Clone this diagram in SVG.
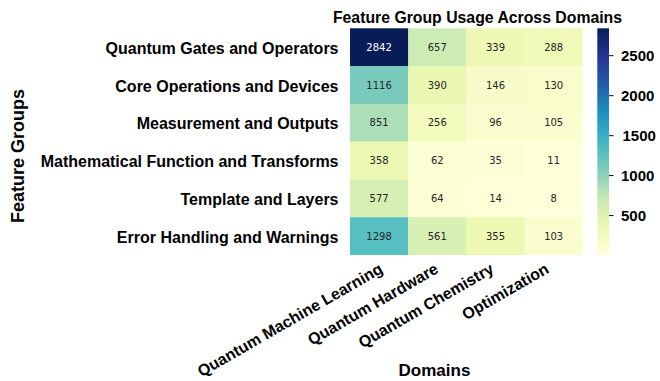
<svg xmlns="http://www.w3.org/2000/svg" width="660" height="381" viewBox="0 0 660 381">
<style>
.lbl{font-family:"Liberation Sans",Arial,sans-serif;font-weight:bold;fill:#000}
.row{font-size:16px;text-anchor:end}
.col{font-size:16px;text-anchor:end}
.ann{font-family:"DejaVu Sans",sans-serif;font-size:10px;text-anchor:middle;fill:#262626}
.annw{fill:#ffffff}
.tick{stroke:#000;stroke-width:1}
.cb{font-size:15px}
</style>
<defs>
<linearGradient id="ylgnbu" x1="0" y1="1" x2="0" y2="0">
<stop offset="0" stop-color="#ffffd9"/>
<stop offset="0.125" stop-color="#edf8b1"/>
<stop offset="0.25" stop-color="#c7e9b4"/>
<stop offset="0.375" stop-color="#7fcdbb"/>
<stop offset="0.5" stop-color="#41b6c4"/>
<stop offset="0.625" stop-color="#1d91c0"/>
<stop offset="0.75" stop-color="#225ea8"/>
<stop offset="0.875" stop-color="#253494"/>
<stop offset="1" stop-color="#081d58"/>
</linearGradient>
</defs>
<rect width="660" height="381" fill="#ffffff"/>
<text id="title" class="lbl" x="477.5" y="22.5" font-size="15.8" text-anchor="middle">Feature Group Usage Across Domains</text>

<g id="heatmap">
<g id="row-1">
<rect x="350" y="28.3" width="58.4" height="38" fill="#081d58"/>
<rect x="408.2" y="28.3" width="58.4" height="38" fill="#cdecb4"/>
<rect x="466.4" y="28.3" width="58.4" height="38" fill="#eef8b4"/>
<rect x="524.6" y="28.3" width="58.2" height="38" fill="#f1f9b9"/>
<text class="ann annw" x="379.1" y="50.8">2842</text>
<text class="ann" x="437.3" y="50.8">657</text>
<text class="ann" x="495.5" y="50.8">339</text>
<text class="ann" x="553.7" y="50.8">288</text>
</g>
<g id="row-2">
<rect x="350" y="66.1" width="58.4" height="38" fill="#77cabc"/>
<rect x="408.2" y="66.1" width="58.4" height="38" fill="#eaf7b1"/>
<rect x="466.4" y="66.1" width="58.4" height="38" fill="#f8fcc9"/>
<rect x="524.6" y="66.1" width="58.2" height="38" fill="#f9fdcb"/>
<text class="ann" x="379.1" y="88.6">1116</text>
<text class="ann" x="437.3" y="88.6">390</text>
<text class="ann" x="495.5" y="88.6">146</text>
<text class="ann" x="553.7" y="88.6">130</text>
</g>
<g id="row-3">
<rect x="350" y="103.9" width="58.4" height="38" fill="#acdeb7"/>
<rect x="408.2" y="103.9" width="58.4" height="38" fill="#f2fabd"/>
<rect x="466.4" y="103.9" width="58.4" height="38" fill="#fbfdcf"/>
<rect x="524.6" y="103.9" width="58.2" height="38" fill="#fafdce"/>
<text class="ann" x="379.1" y="126.3">851</text>
<text class="ann" x="437.3" y="126.3">256</text>
<text class="ann" x="495.5" y="126.3">96</text>
<text class="ann" x="553.7" y="126.3">105</text>
</g>
<g id="row-4">
<rect x="350" y="141.6" width="58.4" height="38" fill="#edf8b2"/>
<rect x="408.2" y="141.6" width="58.4" height="38" fill="#fcfed3"/>
<rect x="466.4" y="141.6" width="58.4" height="38" fill="#fefed6"/>
<rect x="524.6" y="141.6" width="58.2" height="38" fill="#ffffd9"/>
<text class="ann" x="379.1" y="164.1">358</text>
<text class="ann" x="437.3" y="164.1">62</text>
<text class="ann" x="495.5" y="164.1">35</text>
<text class="ann" x="553.7" y="164.1">11</text>
</g>
<g id="row-5">
<rect x="350" y="179.4" width="58.4" height="38" fill="#d6efb3"/>
<rect x="408.2" y="179.4" width="58.4" height="38" fill="#fcfed3"/>
<rect x="466.4" y="179.4" width="58.4" height="38" fill="#ffffd8"/>
<rect x="524.6" y="179.4" width="58.2" height="38" fill="#ffffd9"/>
<text class="ann" x="379.1" y="201.9">577</text>
<text class="ann" x="437.3" y="201.9">64</text>
<text class="ann" x="495.5" y="201.9">14</text>
<text class="ann" x="553.7" y="201.9">8</text>
</g>
<g id="row-6">
<rect x="350" y="217.2" width="58.4" height="37.8" fill="#57bec1"/>
<rect x="408.2" y="217.2" width="58.4" height="37.8" fill="#d8f0b3"/>
<rect x="466.4" y="217.2" width="58.4" height="37.8" fill="#edf8b2"/>
<rect x="524.6" y="217.2" width="58.2" height="37.8" fill="#fafdce"/>
<text class="ann" x="379.1" y="239.7">1298</text>
<text class="ann" x="437.3" y="239.7">561</text>
<text class="ann" x="495.5" y="239.7">355</text>
<text class="ann" x="553.7" y="239.7">103</text>
</g>
</g>

<g id="y-labels">
<text class="lbl row" x="338.5" y="53.7">Quantum Gates and Operators</text>
<text class="lbl row" x="338.5" y="91.5">Core Operations and Devices</text>
<text class="lbl row" x="338.5" y="129.2">Measurement and Outputs</text>
<text class="lbl row" x="338.5" y="167">Mathematical Function and Transforms</text>
<text class="lbl row" x="338.5" y="204.8">Template and Layers</text>
<text class="lbl row" x="338.5" y="242.6">Error Handling and Warnings</text>
</g>

<g id="x-labels">
<text class="lbl col" transform="translate(384,272) rotate(-30)">Quantum Machine Learning</text>
<text class="lbl col" transform="translate(439.5,272) rotate(-30)">Quantum Hardware</text>
<text class="lbl col" transform="translate(495,272) rotate(-30)">Quantum Chemistry</text>
<text class="lbl col" transform="translate(550,272) rotate(-30)">Optimization</text>
</g>

<text id="x-title" class="lbl" x="434.5" y="376" font-size="17" text-anchor="middle">Domains</text>
<text id="y-title" class="lbl" font-size="18" text-anchor="middle" transform="translate(24,156) rotate(-90)">Feature Groups</text>

<g id="colorbar">
<rect x="597.3" y="28.3" width="11.7" height="226.7" fill="url(#ylgnbu)"/>
<line class="tick" x1="609" y1="55.7" x2="613.5" y2="55.7"/>
<line class="tick" x1="609" y1="95.7" x2="613.5" y2="95.7"/>
<line class="tick" x1="609" y1="135.7" x2="613.5" y2="135.7"/>
<line class="tick" x1="609" y1="175.6" x2="613.5" y2="175.6"/>
<line class="tick" x1="609" y1="215.6" x2="613.5" y2="215.6"/>
<text class="lbl cb" x="621" y="61">2500</text>
<text class="lbl cb" x="621" y="101">2000</text>
<text class="lbl cb" x="622.5" y="141">1500</text>
<text class="lbl cb" x="621" y="181">1000</text>
<text class="lbl cb" x="621" y="221">500</text>
</g>
</svg>
